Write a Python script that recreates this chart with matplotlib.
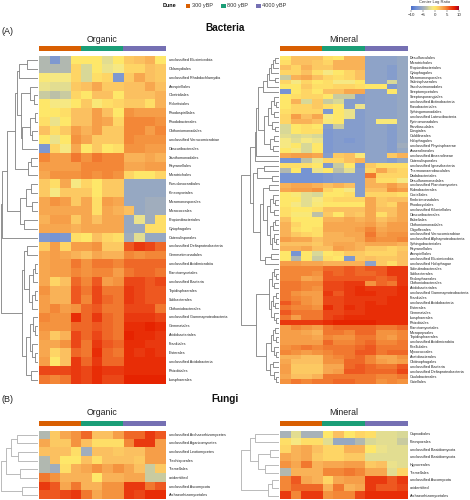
import matplotlib
matplotlib.use("Agg")
import matplotlib.pyplot as plt
from matplotlib.colors import LinearSegmentedColormap, Normalize
from matplotlib.patches import Rectangle
from matplotlib.cm import ScalarMappable
import numpy as np

plt.rcParams["font.family"] = ["Liberation Sans", "DejaVu Sans"]

W, H = 470, 500
L = 0  # a leaf in the dendrogram trees, inner nodes are [height, left, right]

org_bact_labels = ["unclassified Elusimicrobia", "Chlamydiales", "unclassified Rhabdochlamydia", "Azospirillales",
                   "Clostridiales", "Rickettsiales", "Rhodospirillales", "Rhodobacterales", "Chthoniomonadales",
                   "unclassified Verrucomicrobiae", "Obscuribacterales", "Xanthomonadales", "Reyranellales",
                   "Microtrichales", "Pseudonocardiales", "Kineosporiales", "Micromonosporales", "Micrococcales",
                   "Propionibacteriales", "Cytophagales", "Catenulisporales", "unclassified Deltaproteobacteria",
                   "Gemmatimonadales", "unclassified Acidimicrobiia", "Planctomycetales", "unclassified Bacteria",
                   "Tepidisphaerales", "Solibacterales", "Chthoniobacterales", "unclassified Gammaproteobacteria",
                   "Gemmatales", "Acidobacteriales", "Frankiales", "Elsterales", "unclassified Acidobacteria",
                   "Rhizobiales", "Isosphaerales"]

org_bact = [
    [-4, -7, -4, 0, 0, 0, -2, 0, 1.5, 2, 2.5, 0],
    [-4, -4, -4, 1, -2.5, 0, -1.5, -1, 1, 1, 2, 1.5],
    [-0.5, -1, -1, 1, -2.5, 0.5, 1, -7, 1.5, 3, 2, 1.5],
    [-1.5, -2, -2, 1.5, 2, 3, 1.5, 1.5, 2, 2, 3, 2],
    [-3, -3.5, -3, 1, 0, 2, 2, 0, 2, 2, 2, 2.5],
    [0, -1, -1, 0, 1.5, -0.5, 0.5, 1, 1.5, 1.5, 0.5, 2.5],
    [0, 0, 0.5, 2, 2, 3.5, 2, 0, 4, 3.5, 3.5, 3.5],
    [0.5, -1.5, 0, 2, 2, 3.5, 3, 1, 4.5, 4.5, 4.5, 4],
    [2, 0.5, 1.5, 3.5, 2.5, 3.5, 1.5, 1.5, 4.5, 4.5, 3.5, 4.5],
    [0, -1.5, 0, 4, 3, 1.5, 1.5, 1.5, 4.5, 4, 4, 4],
    [-7, 1, -1, 3, 0, 1.5, 0, 0.5, 4, 4, 3.5, 3.5],
    [4.5, 3.5, 3.5, 5, 4, 5, 4.5, 4.5, 2.5, 2.5, 3, 2.5],
    [3.5, 3.5, 3.5, 3.5, 4.5, 4.5, 4.5, 4.5, 3, 3, 3.5, 3.5],
    [3, 4, 4, 4, 4.5, 4, 4.5, 4, 1, 0, 0, 1],
    [1.5, 0.5, 3, -1, 1, 0, 1.5, 1.5, -5.5, -5.5, -5.5, -5.5],
    [1.5, -1, 1.5, 1.5, 1.5, 0, 1.5, 1.5, -5.5, -5.5, -5.5, -5.5],
    [3, 4, 3.5, 1.5, 3, 0.5, 3.5, 3, -5.5, -5.5, -5, -5],
    [3, 3, 3, 3, 3, 0.5, 3, 2.5, 2, -5.5, -5, -5],
    [2.5, 3.5, 3.5, 1.5, 3, 2, 3, 3, -5.5, -1.5, -5, 0.5],
    [3, 3, 3, 2.5, 3, 3, 3, 3, -5.5, -5.5, 0.5, 0.5],
    [-7, -7.5, -7, 0.5, 0, 2, 1, 0.5, -5, -2, -5.5, -5.5],
    [1.5, 3.5, 1, 3.5, 3.5, 4, 1.5, 1.5, 6, 7, 6.5, 5.5],
    [3, 3.5, 3, 2.5, 2, 3, 2.5, 2.5, 4.5, 4, 4.5, 4.5],
    [3, 3.5, 3.5, 5, 4, 5, 5, 4.5, 5.5, 5.5, 5.5, 5.5],
    [3, 3.5, 3.5, 4.5, 4, 4.5, 4.5, 3.5, 5, 5.5, 5.5, 5],
    [3, 1, 2, 5.5, 4.5, 6, 3.5, 4, 6.5, 6.5, 6, 6.5],
    [4, 2.5, 2.5, 6, 5, 6.5, 5, 5, 7, 6.5, 6, 6],
    [3.5, 2.5, 2.5, 6, 4.5, 6.5, 5.5, 5, 7, 6.5, 6, 6],
    [3.5, 4.5, 3.5, 4, 5.5, 6, 5, 5, 6.5, 6.5, 6.5, 5],
    [4.5, 4, 4, 7.5, 5.5, 7, 5.5, 5, 7, 7, 7, 6.5],
    [4, 4, 4, 5.5, 5.5, 6, 5.5, 5, 7.5, 7.5, 8, 7.5],
    [3.5, 1.5, 2.5, 6.5, 5.5, 6.5, 5.5, 5, 8, 7.5, 7.5, 7],
    [3, 3, 4, 6.5, 5, 7, 6, 5.5, 7.5, 7.5, 7, 7],
    [3, 1, 2, 5.5, 5, 7.5, 5.5, 5, 7.5, 7, 7.5, 7],
    [3.5, 0, 2, 7, 5.5, 7, 5.5, 5.5, 7.5, 7.5, 7.5, 7.5],
    [6.5, 6.5, 6.5, 7, 6.5, 7.5, 7, 7, 7.5, 7.5, 7.5, 7.5],
    [5, 4.5, 5, 7, 6.5, 7.5, 6.5, 6.5, 8, 8, 8, 8],
]

min_bact_labels = ["Desulfurculales", "Microtrichales", "Propionibacteriales", "Cytophagales", "Micromonosporales",
                   "Salinisphaerales", "Saccharimonadales", "Streptomycetales", "Streptosporangiales",
                   "unclassified Actinobacteria", "Flavobacteriales", "Sphingomonadales",
                   "unclassified Latescibacteria", "Pyrinomonadales", "Parvibaculales", "Dongiales", "Caldilineales",
                   "Holophagales", "unclassified Phycisphaerae", "Anaerolineales", "unclassified Anaerolineae",
                   "Catenulisporales", "unclassified Ignavibacteria", "Thermoanaerobaculales", "Dadabacteriales",
                   "Desulfuromonadales", "unclassified Planctomycetes", "Rubrobacterales", "Coxiellales",
                   "Fimbriimonadales", "Rhodocyclales", "unclassified Kiloniellales", "Obscuribacterales",
                   "Babeliales", "Chthoniomonadales", "Oligoflexales", "unclassified Verrucomicrobiae",
                   "unclassified Alphaproteobacteria", "Sphingobacteriales", "Reyranellales", "Azospirillales",
                   "unclassified Elusimicrobia", "unclassified Holophagae", "Solirubrobacterales", "Solibacterales",
                   "Pedosphaerales", "Chthoniobacterales", "Acidobacteriales", "unclassified Gammaproteobacteria",
                   "Frankiales", "unclassified Acidobacteria", "Elsterales", "Gemmatales", "Isosphaerales",
                   "Rhizobiales", "Planctomycetales", "Micropepsales", "Tepidisphaerales",
                   "unclassified Acidimicrobiia", "Pirellulales", "Myxococcales", "Acetobacterales",
                   "Chitinophagales", "unclassified Bacteria", "unclassified Deltaproteobacteria", "Caulobacterales",
                   "Gaiellales"]

min_bact = [
    [0, 2, 2, 2, 0.5, 0, 2.5, 2.5, -6, -6, -6, -5.5],
    [0.5, 2, 2, 1.5, 1, 2.5, 2.5, 2.5, -6, -6, -6, -5.5],
    [2, 1, 2.5, 1.5, 1.5, 2.5, 2.5, 2.5, -6, -6, -6.5, -5.5],
    [1, 1, 2, 0.5, -1, 0, 1, 2, -6, -6, -6.5, -5.5],
    [-3, 2.5, 3, 2, 1, 0.5, 1, 2, -6, -6, -6.5, -5.5],
    [1, -1, 1, 0, 0.5, -1, -1, 0, -6, -6, -2.5, -5.5],
    [0, 0, 1.5, 0.5, 0.5, 1, 1, 0.5, 0, 0, -7, -5.5],
    [-7.5, 0, 1, 0, 2, 2, 3, 3, -6, -6, 0, -5.5],
    [0, 0.5, 1, 1, 0, -3, -3, -6.5, -6, -6, -6, -5.5],
    [0, 2.5, -2.5, 1.5, -3, -2.5, -6.5, -6.5, -6, -6, -6, -5.5],
    [0, 1, 1, 1.5, 0.5, 0, -6.5, -1.5, -6, -6, -6, -5.5],
    [0.5, 1, 1, 1, -7, 0, -1.5, -6.5, -6, -6, -6, -5.5],
    [1, 3.5, 2, 3, -1, 0, -1.5, -6.5, -6, -6, -6, -5.5],
    [1, 2.5, 2.5, 2, -0.5, 0, -6.5, -6.5, -6, -0.5, -0.5, -5.5],
    [-2.5, 0, 0.5, 0, -6.5, -3, -6.5, -6.5, -6, -6, -6.5, -5.5],
    [-2.5, 0, 0.5, 0.5, -7, -6.5, -6.5, -6.5, -6, -6, -6.5, -5.5],
    [-2, -2.5, -2, -2.5, -7, -6.5, -6.5, -6.5, -6, -6, -6.5, -5.5],
    [-1, -2, -1, -1.5, -7, -6.5, -7, -6.5, -6, -6, -6.5, -5.5],
    [-1, 0, -2.5, 0, -7, -6.5, -6.5, -6.5, -6, -6, -6.5, -5],
    [0, -1, -2.5, 0, -7, -6.5, -6.5, -6.5, -6, -6, -6.5, -5.5],
    [3, 3.5, 3.5, 3, -6.5, 1.5, 2, -0.5, -6, -6, 1.5, 2.5],
    [-7.5, -7.5, -3.5, -1.5, 1, 1, 2, 2.5, -6, -6, -6.5, -5.5],
    [0.5, 0.5, 0.5, 0, -7, -3, 0, -7, 1.5, 0.5, 0.5, 0.5],
    [-4, 0, -7.5, -1.5, 0, -3.5, -2, -6.5, 1, 3, 1.5, 1],
    [-7.5, -7.5, -7.5, -7.5, -7, -6.5, -6.5, -6.5, 5, 1, 1, 1],
    [-7.5, -7.5, -7.5, -7.5, -7, -6.5, -6.5, -6.5, 2.5, 0.5, 0.5, -1],
    [2.5, 3, 3, 2.5, 2, 2.5, 2, -6.5, 2.5, 2.5, 3.5, 2.5],
    [3, 3.5, 3.5, 4, 1, 0, -1, -6.5, 2, 2, 4, 3.5],
    [0, -0.5, -2, -2.5, 0, 0, 0.5, -6.5, 1, 1, 1, 0.5],
    [0, 0, -2, -1, 0.5, 1, 1, 1, 3, 1.5, 2, 2],
    [0, -1, -2, -0.5, 0, 0, 0, 0, 3, 1.5, 1, 3],
    [0.5, 0, 0, 0.5, 2, 2, 2, 2, 3, 2, 2, 3],
    [0.5, -0.5, -0.5, -3.5, 1.5, 0, 2, 1.5, 3, 0.5, 2, 3],
    [2, 0, 0, 0, 2.5, 2.5, 3, 2.5, 3, 2, 2.5, 3],
    [2.5, 1, 0, 0, 3, 3, 3, 3, 3.5, 2.5, 3.5, 3.5],
    [2.5, 0.5, 0, 0.5, 3, 3, 3, 3.5, 4.5, 3, 3.5, 3.5],
    [2.5, 1.5, 1, 0.5, 2.5, 2.5, 3, 3, 5, 3.5, 4, 4],
    [3.5, 3, 3, 2, 2.5, 2.5, 2.5, 3, 4.5, 4, 4, 4.5],
    [2, 2, 2, 1.5, 2.5, 3, 3, 2.5, 3, 3, 3, 2.5],
    [2.5, 2.5, 3, 2, 2, 3.5, 3, 2.5, 1.5, 1.5, 1, 1.5],
    [0, -7.5, 0, -2.5, 0, 0.5, 1.5, 1.5, 1, 1, 1, 2],
    [0, -4, 0, -3, 0.5, 0, -7, 1.5, 2, 1.5, 1.5, 2],
    [3.5, 3.5, 3, 3, 2.5, 2.5, 2.5, 2.5, -6, 1.5, 0.5, 2],
    [4.5, 4.5, 4.5, 4.5, 5.5, 5.5, 6, 5.5, 6, 6, 7, 7],
    [4.5, 4.5, 4.5, 4, 6, 5.5, 6, 5.5, 5.5, 6, 7, 7],
    [4.5, 4.5, 3, 3.5, 6, 6, 6, 6, 6, 5.5, 6, 7],
    [5, 5, 4.5, 4.5, 6.5, 6.5, 7, 7, 4, 5.5, 5, 7],
    [5, 5, 4.5, 4, 6.5, 6.5, 7, 7.5, 7, 7, 7, 7.5],
    [5, 4, 3.5, 3.5, 7, 6, 7, 7.5, 7.5, 7, 7, 7.5],
    [5, 4.5, 4, 3.5, 6.5, 6.5, 7, 7, 7, 7, 7.5, 7.5],
    [6, 5, 4, 3.5, 6.5, 6.5, 7, 7, 7.5, 7, 7.5, 7.5],
    [5, 4.5, 4.5, 4, 7.5, 6.5, 7.5, 7, 7.5, 7.5, 7.5, 7.5],
    [6, 5, 5, 5, 6.5, 6.5, 7, 7, 7.5, 7.5, 7.5, 7.5],
    [5, 3.5, 5, 5, 6.5, 7, 7.5, 7.5, 7.5, 7.5, 7.5, 7.5],
    [7, 7, 7, 7, 7.5, 8, 8, 8, 8, 7.5, 7.5, 7.5],
    [3.5, 4.5, 4, 3.5, 5, 5.5, 5.5, 5.5, 5.5, 5, 5, 5.5],
    [3.5, 3.5, 3, 2.5, 5, 5, 4.5, 5.5, 5.5, 4, 4, 4.5],
    [3.5, 3.5, 3.5, 3, 4.5, 4, 4, 5, 5, 4, 3.5, 4.5],
    [3.5, 3.5, 3.5, 3.5, 5.5, 4.5, 4.5, 5, 5.5, 4.5, 4.5, 5],
    [4, 4.5, 5, 4.5, 5, 5, 5, 5.5, 6, 5, 5, 5],
    [4.5, 4, 3.5, 4, 4.5, 5, 5, 6, 6, 5, 5.5, 5.5],
    [2.5, 2.5, 2, 2, 4, 4.5, 5, 5.5, 4.5, 3, 3, 4],
    [3, 2, 2, 2, 4, 4, 5.5, 5.5, 4.5, 3.5, 3, 3.5],
    [3.5, 1.5, 1.5, 1.5, 3, 3, 5.5, 6, 5.5, 5, 5, 6],
    [3.5, 1.5, 1.5, 1.5, 3, 3.5, 6, 6, 5.5, 5.5, 5.5, 6.5],
    [3, 2, 2, 2.5, 5, 5, 5, 5, 5, 4.5, 4.5, 5],
    [4, 5, 4.5, 5, 5, 5.5, 5.5, 5, 5, 4, 4.5, 4],
]

org_fungi_labels = ["unclassified Archaeorhizomycetes", "unclassified Agaricomycetes",
                    "unclassified Leotiomycetes", "Trechisporales", "Tremellales", "unidentified",
                    "unclassified Ascomycota", "Archaeorhizomycetales"]

org_fungi = [
    [-4, 1.5, 3, 4, 5.5, 2, 2, 3.5, 5.5, 5.5, 7, 6],
    [3, 1.5, 1.5, 4, 2, 0.5, 0.5, 0.5, 4.5, 7, 7, 3.5],
    [2, 2, 2, 0.5, -5, 2, 2, 1.5, 2, 2, 3.5, 3.5],
    [-4, 2, 0, 0, 2, 0.5, 2, 2, 2, 1.5, 3.5, 3.5],
    [-4, -5, 0.5, 2.5, 3, 4, 3, 4, 3, 2, -3, 1.5],
    [5, 4, 2.5, 2.5, 2.5, 0, 2.5, 2.5, 3, 3, -3, -3],
    [7, 6, 3, 5, 2.5, 2.5, 4, 4, 7, 7, 5, 6],
    [6, 6, 6.5, 7, 5, 3, 4, 4, 7, 6.5, 7.5, 7.5],
]

min_fungi_labels = ["Capnodiales", "Pleosporales", "unclassified Basidiomycota", "unclassified Basidiomycota",
                    "Hypocreales", "Tremellales", "unclassified Ascomycota", "unidentified",
                    "Archaeorhizomycetales"]

min_fungi = [
    [-4.5, -2, -4.5, -4.5, 0, 2, 0, 1, 0.5, -2, -2, -2.5],
    [0.5, -1, 0.5, 0.5, -2, -5.5, -5.5, -4, -2.5, -2, -2, -3],
    [1, 2.5, 3, 2, 1, 1, 2.5, 2.5, 0, -1.5, -2, -2],
    [3, 2.5, 3, 1.5, 1, 1, 1.5, 1.5, -2, -2, -2, -2],
    [4, 3, 5, 2.5, 3, 3, 3.5, 3.5, 1.5, 2, -1.5, -2],
    [-4, 2.5, 2.5, 2.5, 4.5, 4.5, 5, 4.5, 3, 3, -2, 1],
    [4.5, 6, 3, 2.5, 1, 3, 3.5, 3.5, 7, 7, 6, 7],
    [4.5, 5.5, 5.5, 5.5, 2.5, 5, 2.5, 3, 7, 6, 6, 6.5],
    [7, 4.5, 7, 7, 4, 4.5, 4.5, 6.5, 7.5, 7.5, 7.5, 7.5],
]

org_bact_tree = [38,
    [36,
        [31,
            [23,
                [21, [19, [11, L, L], L],
                     [17, [8, L, [4, L, L]], [16, [8, [3.5, L, L], [6, L, L]], L]]],
                [10, [7, L, L], L]],
            [18, [12, [7, L, L], [6, L, L]], [14, L, L]]],
        L],
    [16,
        [14, [11, L, L], [9, [5, [3, L, L], L], [6, [3, L, L], L]]],
        [12, [8, [5, L, [3, L, L]], [6, L, [3, L, L]]], [7, L, L]]]]

min_bact_tree = [38,
    [29,
        [24,
            [23,
                [21,
                    [16, [12, [10, [8, [6, [4, L, L], L], L], [4, L, L]], L], L],
                    [15, [11, [8, [5, L, [3, L, L]], [5, L, L]], [7, L, [4, L, L]]],
                         [9, [5, L, L], [6, L, L]]]],
                L],
            L],
        [26,
            [22, [15, L, L], [7, L, L]],
            [19,
                [16, [10, L, L],
                     [12, [9, [6, L, [4, L, L]], [5, L, L]],
                          [9, [6, [4, L, L], L], [7, [5, L, [3, L, L]], L]]]],
                [14, [8, L, L], L]]]],
    [23,
        [10, [7, [5, L, [3, L, L]], [5, L, L]],
             [8, [6, [3, L, L], [4, L, L]], [5, L, [3, L, L]]]],
        [13, [8, [6, [4, L, L], [3, L, L]], [5, L, [3, L, L]]],
             [9, [6, L, L], [5, L, [3, L, L]]]]]]

org_fungi_tree = [38, [32, [27, [21, L, L], [20, L, L]], [18, L, L]], [16, L, L]]
min_fungi_tree = [38, [29, [24, L, L], [21, [9, L, L], [14, L, L]]], [11, [7, L, L], L]]

dune_names = ["300 yBP", "800 yBP", "4000 yBP"]
dune_colours = ["#d95f02", "#1b9e77", "#7570b3"]
cbar_ticks = [-10, -5, 0, 5, 10]

clr_cmap = LinearSegmentedColormap.from_list("clr", [
    (0.00, "#4a6cc8"), (0.10, "#6f8fd8"), (0.20, "#8ea3c8"), (0.275, "#a9b3b8"),
    (0.325, "#bcc0a8"), (0.375, "#d8d898"), (0.45, "#f6e884"), (0.50, "#fee86a"),
    (0.55, "#fed565"), (0.60, "#fbc060"), (0.65, "#f8a850"), (0.70, "#f59540"),
    (0.75, "#f27a30"), (0.80, "#ee5820"), (0.85, "#ea3a10"), (0.90, "#e82400"),
    (1.00, "#a50026")])
clr_norm = Normalize(-10, 10)


def px_axes(fig, x0, y0, x1, y1):
    """axes from pixel box, y counted from the top of the image"""
    ax = fig.add_axes([x0 / W, 1 - y1 / H, (x1 - x0) / W, (y1 - y0) / H])
    ax.axis("off")
    return ax


def draw_tree(ax, node, leaf_pos, colour):
    """recursively draw a dendrogram, returns height and y of the node"""
    if not isinstance(node, list):
        y = leaf_pos[0]
        leaf_pos[0] += 1
        return 0, y
    h0, y0 = draw_tree(ax, node[1], leaf_pos, colour)
    h1, y1 = draw_tree(ax, node[2], leaf_pos, colour)
    h = node[0]
    ax.plot([h0, h, h, h1], [y0, y0, y1, y1], color=colour, lw=0.6, solid_capstyle="butt")
    return h, (y0 + y1) / 2


def panel(fig, x0, x1, y0, y1, bar_top, bar_bot, title, title_y, data, labels, tree, label_x, tree_x, tree_colour):
    ax = px_axes(fig, x0, y0, x1, y1)
    ax.imshow(np.array(data), cmap=clr_cmap, norm=clr_norm, aspect="auto", interpolation="nearest")
    n_rows = len(data)
    for i, lab in enumerate(labels):
        y_px = y0 + (i + 0.5) * (y1 - y0) / n_rows
        fig.text(label_x / W, 1 - y_px / H, lab, fontsize=2.7, color="#222222", va="center", ha="left")
    # column annotation
    bar = px_axes(fig, x0, bar_top, x1, bar_bot)
    bar.set_xlim(0, 12)
    bar.set_ylim(0, 1)
    for j in range(3):
        bar.add_patch(Rectangle((j * 4, 0), 4, 1, color=dune_colours[j], lw=0))
    fig.text((x0 + x1) / 2 / W, 1 - title_y / H, title, fontsize=6.3, color="#222222", ha="center", va="center")
    # row dendrogram
    dax = px_axes(fig, tree_x, y0, x0 - 0.5, y1)
    dax.set_xlim(tree[0], 0)
    dax.set_ylim(n_rows - 0.5, -0.5)
    draw_tree(dax, tree, [0], tree_colour)


if __name__ == "__main__":

    fig = plt.figure(figsize=(W / 100, H / 100), dpi=100)

    panel(fig, 38.5, 165.5, 55.5, 384, 46, 51, "Organic", 39, org_bact, org_bact_labels,
          org_bact_tree, 169, 0.5, "#808080")
    panel(fig, 279.5, 407.5, 55.5, 384, 46, 51, "Mineral", 39, min_bact, min_bact_labels,
          min_bact_tree, 410, 241, "#808080")
    panel(fig, 38.5, 165.5, 430.5, 499.5, 420.5, 425.5, "Organic", 412.5, org_fungi, org_fungi_labels,
          org_fungi_tree, 169, 0.5, "#b0b0b0")
    panel(fig, 279.5, 407.5, 430.5, 499.5, 420.5, 425.5, "Mineral", 412.5, min_fungi, min_fungi_labels,
          min_fungi_tree, 410, 241, "#b0b0b0")

    fig.text(225.5 / W, 1 - 28 / H, "Bacteria", fontsize=7.2, fontweight="bold", ha="center", va="center", color="#111111")
    fig.text(225 / W, 1 - 399 / H, "Fungi", fontsize=7.2, fontweight="bold", ha="center", va="center", color="#111111")
    fig.text(1.5 / W, 1 - 32 / H, "(A)", fontsize=6.5, va="center", color="#222222")
    fig.text(1.5 / W, 1 - 400 / H, "(B)", fontsize=6.5, va="center", color="#222222")

    # legend on top
    fig.text(163 / W, 1 - 5.5 / H, "Dune", fontsize=3.9, fontweight="bold", va="center")
    leg_x = [185.5, 221, 256]
    leg = px_axes(fig, 0, 0, W, H)
    leg.set_xlim(0, W)
    leg.set_ylim(H, 0)
    for xp, name, col in zip(leg_x, dune_names, dune_colours):
        leg.add_patch(Rectangle((xp, 3.5), 4.5, 4.5, color=col, lw=0))
        leg.text(xp + 6, 5.7, name, fontsize=4, va="center", color="#333333")

    # colour bar
    cax = fig.add_axes([411 / W, 1 - 10 / H, 48 / W, 4 / H])
    cb = fig.colorbar(ScalarMappable(norm=clr_norm, cmap=clr_cmap), cax=cax, orientation="horizontal", ticks=cbar_ticks)
    cb.outline.set_visible(False)
    cb.ax.tick_params(length=1.2, width=0.3, labelsize=3.2, pad=0.8, colors="#333333")
    fig.text(435 / W, 1 - 2 / H, "Center Log Ratio", fontsize=3, ha="center", va="center", color="#333333")

    fig.savefig("out.png", dpi=100)
